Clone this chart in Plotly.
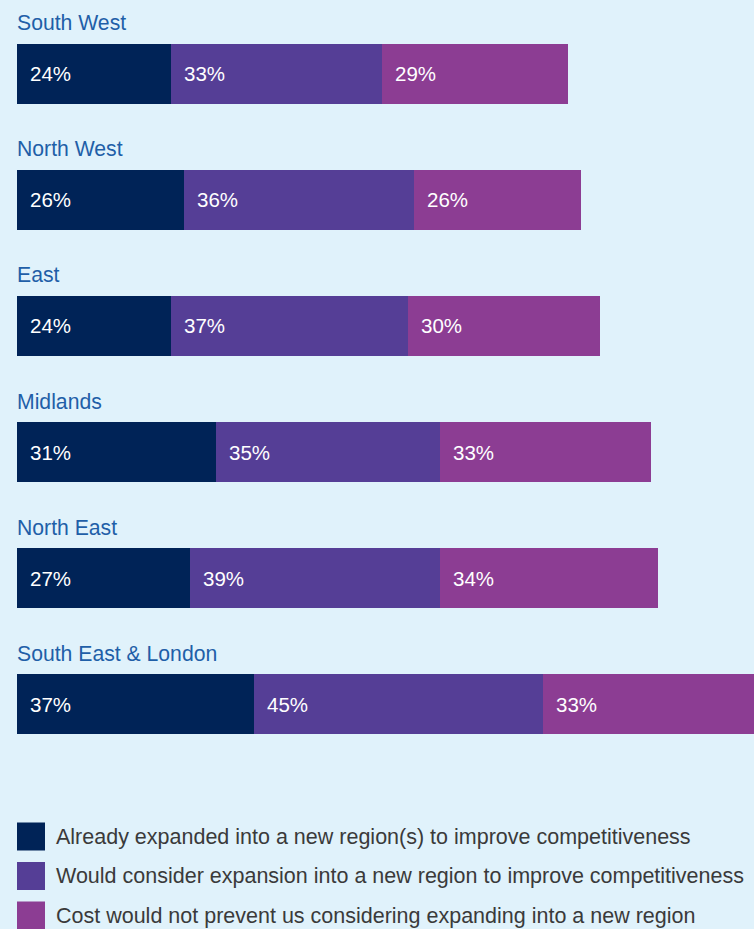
import plotly.graph_objects as go

# Survey results by region (percent of respondents)
regions = ["South West", "North West", "East", "Midlands", "North East", "South East & London"]
already_expanded = [24, 26, 24, 31, 27, 37]
would_consider = [33, 36, 37, 35, 39, 45]
cost_no_barrier = [29, 26, 30, 33, 34, 33]

series_names = [
    "Already expanded into a new region(s) to improve competitiveness",
    "Would consider expansion into a new region to improve competitiveness",
    "Cost would not prevent us considering expanding into a new region",
]
series_values = [already_expanded, would_consider, cost_no_barrier]
series_colors = ["#002357", "#553e96", "#8c3d93"]

W, H = 754, 929
BG = "#e0f2fb"
FONT = "Liberation Sans, Arial, Helvetica, sans-serif"

fig = go.Figure()
for name, vals, col in zip(series_names, series_values, series_colors):
    fig.add_trace(go.Bar(
        y=regions, x=vals, name=name, orientation="h",
        marker=dict(color=col, line=dict(width=0)),
        width=0.475, showlegend=False, hoverinfo="x+y",
    ))

annotations = []
# Percentage labels at the start of each segment
for i, reg in enumerate(regions):
    start = 0
    for vals in series_values:
        annotations.append(dict(
            x=start, y=reg, xref="x", yref="y", text=f"{vals[i]}%",
            showarrow=False, xanchor="left", yanchor="middle", xshift=11,
            font=dict(family=FONT, size=20.5, color="#ffffff"),
        ))
        start += vals[i]
    # Region name above each bar
    annotations.append(dict(
        x=0, y=reg, xref="x", yref="y", text=reg, showarrow=False,
        xanchor="left", yanchor="middle", yshift=51, xshift=-2,
        font=dict(family=FONT, size=21.2, color="#1f5fa8"),
    ))

# Legend drawn as swatches plus text at the bottom
shapes = []
legend_centers = [836.5, 876, 915.5]
for name, col, cy in zip(series_names, series_colors, legend_centers):
    shapes.append(dict(
        type="rect", xref="paper", yref="paper",
        x0=17 / W, x1=45 / W, y0=1 - (cy + 14) / H, y1=1 - (cy - 14) / H,
        fillcolor=col, line=dict(width=0),
    ))
    annotations.append(dict(
        x=55 / W, y=1 - cy / H, xref="paper", yref="paper", text=name,
        showarrow=False, xanchor="left", yanchor="middle", xshift=-1,
        font=dict(family=FONT, size=21.5, color="#3a3a3a"),
    ))

fig.update_layout(
    width=W, height=H,
    margin=dict(l=0, r=0, t=0, b=0),
    paper_bgcolor=BG, plot_bgcolor=BG,
    barmode="stack", bargap=0,
    xaxis=dict(domain=[17 / W, 1], range=[0, 115], visible=False, fixedrange=True),
    yaxis=dict(range=[6.78, -0.584], visible=False, fixedrange=True,
               categoryorder="array", categoryarray=regions),
    annotations=annotations, shapes=shapes,
)

fig.write_html("out.html")
